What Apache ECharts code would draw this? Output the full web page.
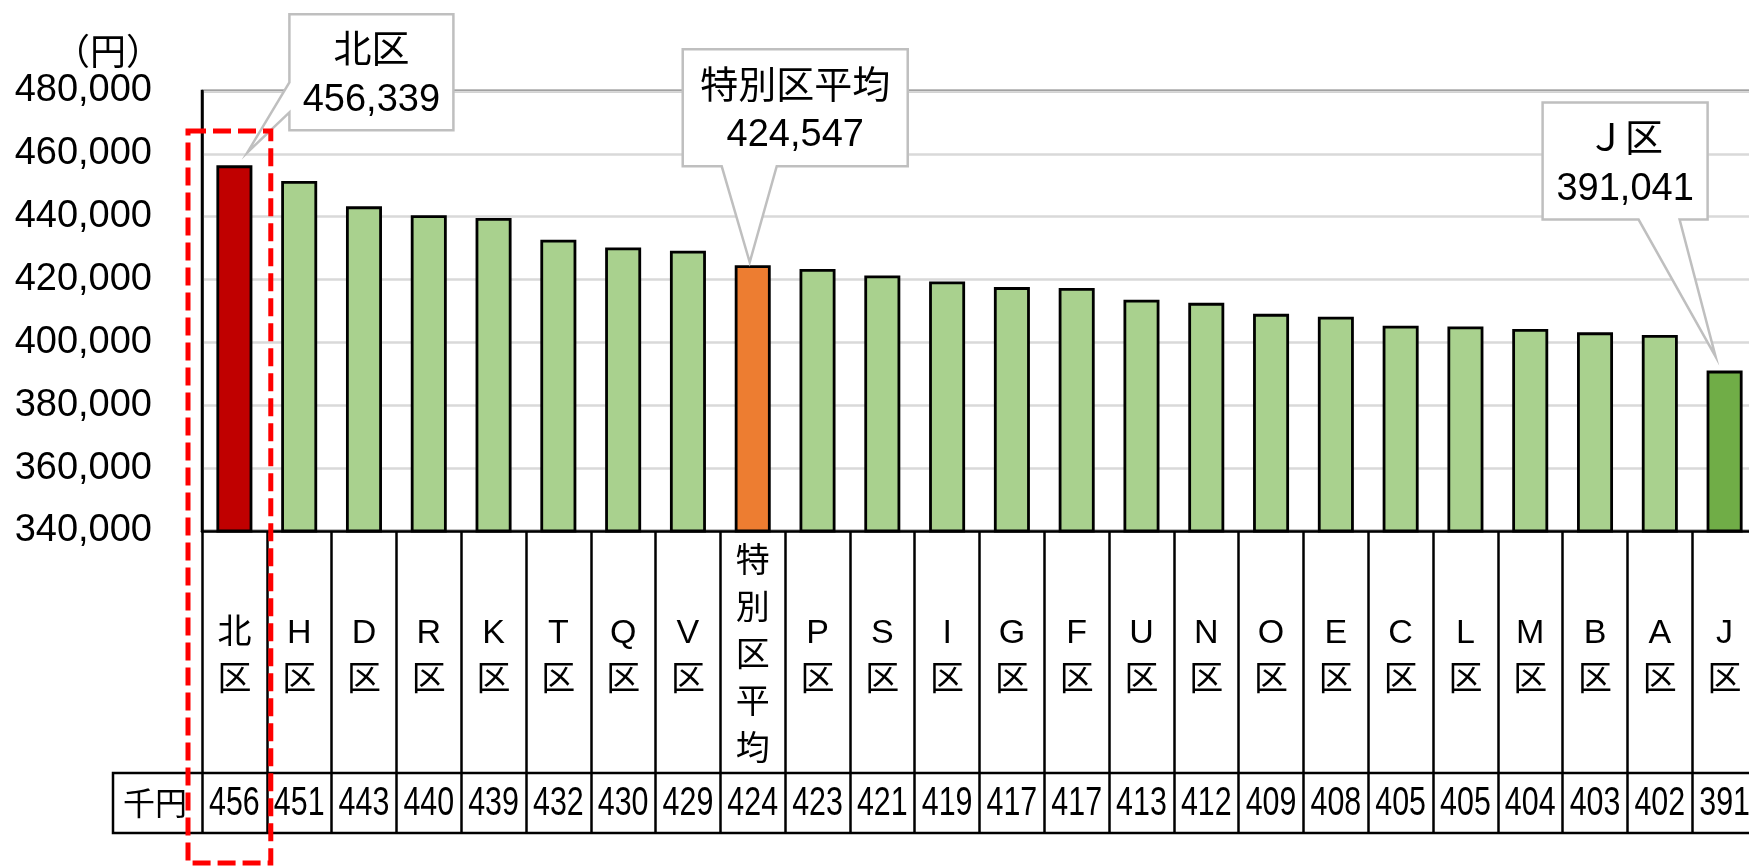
<!DOCTYPE html>
<html>
<head>
<meta charset="utf-8">
<script src="https://cdn.jsdelivr.net/npm/echarts@6/dist/echarts.min.js"></script>
<style>
html,body{margin:0;padding:0;background:#fff;overflow:hidden;}
#main{width:1762px;height:866px;}
</style>
</head>
<body>
<div id="main"></div>
<script>
// 区名（並び順）
var categories = ['北区','H区','D区','R区','K区','T区','Q区','V区','特別区平均','P区','S区','I区','G区','F区','U区','N区','O区','E区','C区','L区','M区','B区','A区','J区'];
// 金額（円）
var values = [456339,451400,443300,440500,439600,432700,430200,429200,424547,423400,421300,419400,417600,417300,413600,412600,409100,408200,405300,405100,404300,403200,402400,391041];
// 表の千円欄
var tableValues = ['456','451','443','440','439','432','430','429','424','423','421','419','417','417','413','412','409','408','405','405','404','403','402','391'];
// 縦軸
var yMin = 340000, yMax = 480000, yStep = 20000;
// 吹き出し
var calloutIndex = [0, 8, 23];
var calloutNames = ['北区','特別区平均','Ｊ区'];

// レイアウト
var gridLeft = 202, gridTop = 91, gridWidth = 1555, gridHeight = 440;
var tableRowTop = 773, tableBottom = 833;
var calloutStyle = [
    {tip:[13,-13], box:[42,-138,164,116], side:'left', base:[68,98]},
    {tip:[-3,-3], box:[-67,-213,225,117], side:'bottom', base:[39,94]},
    {tip:[-9,-14], box:[-173,-254,165,117], side:'bottom', base:[96,137]}
];

function fmt(v){
    return String(v).replace(/\B(?=(\d{3})+(?!\d))/g, ',');
}
function barColor(i){
    if (i === 0) return '#C00000';
    if (i === 8) return '#ED7D31';
    if (i === 23) return '#70AD47';
    return '#A9D18E';
}

var myChart = echarts.init(document.getElementById('main'));
var option = {
    backgroundColor:'#fff',
    animation:false,
    grid:{
        left:gridLeft, top:gridTop, width:gridWidth, height:gridHeight,
        show:true, borderColor:'#000', borderWidth:2.5
    },
    xAxis:{
        type:'category',
        data:categories,
        position:'bottom',
        axisLine:{show:true, lineStyle:{color:'#000', width:2.5}},
        axisTick:{show:true, interval:0, length:tableBottom - gridTop - gridHeight, lineStyle:{color:'#000', width:2.5}},
        axisLabel:{
            interval:0, margin:126, verticalAlign:'middle', color:'#000',
            fontSize:34, lineHeight:47, fontFamily:'"Liberation Sans","Noto Sans CJK JP",sans-serif',
            formatter:function(v){ return v.split('').join('\n'); }
        }
    },
    yAxis:{
        type:'value',
        min:yMin, max:yMax, interval:yStep,
        name:'（円）',
        nameLocation:'end',
        nameGap:40,
        nameTextStyle:{align:'right', verticalAlign:'middle', padding:[0,40,0,0], fontSize:36, color:'#000', fontFamily:'"Noto Sans CJK JP",sans-serif'},
        axisLine:{show:true, lineStyle:{color:'#000', width:2.5}},
        axisTick:{show:false},
        splitLine:{lineStyle:{color:'#D9D9D9', width:2.5}},
        axisLabel:{margin:50, color:'#000', fontSize:38, fontFamily:'"Liberation Sans",sans-serif', formatter:fmt}
    },
    series:[{
        type:'bar',
        data:values,
        barWidth:36,
        itemStyle:{
            color:function(p){ return barColor(p.dataIndex); },
            borderColor:'#000', borderWidth:2.8
        }
    },{
        // 表の千円欄
        type:'custom',
        z:5,
        clip:false,
        data:tableValues.map(function(t, i){ return [i, yMin]; }),
        renderItem:function(params, api){
            var p = api.coord([api.value(0), api.value(1)]);
            return {
                type:'text',
                x:p[0], y:(tableRowTop + tableBottom)/2 + 1,
                scaleX:0.76,
                style:{text:tableValues[params.dataIndex], fill:'#000', fontSize:40, fontFamily:'"Liberation Sans",sans-serif', align:'center', verticalAlign:'middle'}
            };
        }
    },{
        // 吹き出し
        type:'custom',
        z:6,
        clip:false,
        data:calloutIndex.map(function(i){ return [i, values[i]]; }),
        renderItem:function(params, api){
            var s = calloutStyle[params.dataIndex];
            var top = api.coord([api.value(0), api.value(1)]);
            var tx = top[0] + s.tip[0], ty = top[1] + s.tip[1];
            var L = tx + s.box[0], T = ty + s.box[1], R = L + s.box[2], B = T + s.box[3];
            var pts;
            if (s.side === 'left') {
                pts = [[L,T],[R,T],[R,B],[L,B],[L,T + s.base[1]],[tx,ty],[L,T + s.base[0]]];
            } else {
                pts = [[L,T],[R,T],[R,B],[L + s.base[1],B],[tx,ty],[L + s.base[0],B],[L,B]];
            }
            return {
                type:'group',
                children:[{
                    type:'polygon',
                    shape:{points:pts},
                    style:{fill:'#fff', stroke:'#BFBFBF', lineWidth:2.5}
                },{
                    type:'text',
                    x:(L + R)/2, y:T + s.box[3]*0.29,
                    style:{text:calloutNames[params.dataIndex], fill:'#000', fontSize:38, fontFamily:'"Noto Sans CJK JP",sans-serif', align:'center', verticalAlign:'middle'}
                },{
                    type:'text',
                    x:(L + R)/2, y:T + s.box[3]*0.74,
                    style:{text:fmt(api.value(1)), fill:'#000', fontSize:38, fontFamily:'"Liberation Sans",sans-serif', align:'center', verticalAlign:'middle'}
                }]
            };
        }
    }]
};
myChart.setOption(option);

// 表の枠・千円・赤枠
var band = gridWidth / categories.length;
var c0 = myChart.convertToPixel({xAxisIndex:0}, categories[0]);
myChart.setOption({
    graphic:[{
        type:'rect',
        z:10,
        shape:{x:113, y:tableRowTop, width:1760, height:tableBottom - tableRowTop},
        style:{fill:'none', stroke:'#000', lineWidth:2.5}
    },{
        type:'text',
        z:10,
        x:155, y:(tableRowTop + tableBottom)/2,
        style:{text:'千円', fill:'#000', fontSize:32, fontFamily:'"Noto Sans CJK JP",sans-serif', align:'center', verticalAlign:'middle'}
    },{
        type:'rect',
        z:20,
        shape:{x:c0 - band/2 - 14, y:131, width:band + 18, height:732},
        style:{fill:'none', stroke:'#FF0000', lineWidth:5, lineDash:[18,7]}
    }]
});
</script>
</body>
</html>
